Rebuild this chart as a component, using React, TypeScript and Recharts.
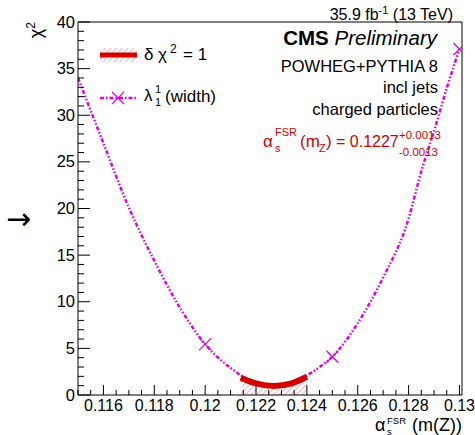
import React from 'react';
import { ComposedChart, Line, Area, Scatter, XAxis, YAxis } from 'recharts';

// magenta lambda_1^1 (width) chi2 scan
const scanCurve = [
  { x: 0.1150, chi2: 34.0 },
  { x: 0.1160, chi2: 27.0 },
  { x: 0.1170, chi2: 20.1 },
  { x: 0.1180, chi2: 14.4 },
  { x: 0.1190, chi2: 9.4 },
  { x: 0.1200, chi2: 5.45 },
  { x: 0.1210, chi2: 2.9 },
  { x: 0.1220, chi2: 1.3 },
  { x: 0.1227, chi2: 0.97 },
  { x: 0.1235, chi2: 1.4 },
  { x: 0.1245, chi2: 3.0 },
  { x: 0.1250, chi2: 4.1 },
  { x: 0.1260, chi2: 7.7 },
  { x: 0.1270, chi2: 12.6 },
  { x: 0.1280, chi2: 18.9 },
  { x: 0.1285, chi2: 24.0 },
  { x: 0.1290, chi2: 28.3 },
  { x: 0.1295, chi2: 32.9 },
  { x: 0.1300, chi2: 37.1 },
];

const scanPoints = [
  { x: 0.120, chi2: 5.45 },
  { x: 0.125, chi2: 4.1 },
  { x: 0.130, chi2: 37.1 },
];

// delta chi2 = 1 interval
const deltaBand = [
  { x: 0.1214, chi2: 1.86 },
  { x: 0.1220, chi2: 1.25 },
  { x: 0.1227, chi2: 0.97 },
  { x: 0.1234, chi2: 1.25 },
  { x: 0.1240, chi2: 1.96 },
];

const xMajorTicks = [0.116, 0.118, 0.12, 0.122, 0.124, 0.126, 0.128, 0.13];
const xMajorLabels = ['0.116', '0.118', '0.12', '0.122', '0.124', '0.126', '0.128', '0.13'];
const yMajorTicks = [0, 5, 10, 15, 20, 25, 30, 35, 40];

const xAllTicks: number[] = [];
for (let i = 0; i <= 30; i++) xAllTicks.push(Math.round((0.115 + i * 0.0005) * 100000) / 100000);
const yAllTicks: number[] = [];
for (let i = 0; i <= 40; i++) yAllTicks.push(i);

const X_DOMAIN: [number, number] = [0.115, 0.1301];
const FONT = '"Liberation Sans", Arial, sans-serif';
const MAGENTA = '#e000e0';
const RED = '#d40000';

const XTick = (props: any) => {
  const { x, y, payload } = props;
  const idx = xMajorTicks.findIndex((t) => Math.abs(t - payload.value) < 1e-7);
  const major = idx >= 0;
  return (
    <g>
      <line x1={x} x2={x} y1={y} y2={y - (major ? 10 : 5)} stroke="#000" />
      {major && (
        <text x={x} y={y + 16} textAnchor="middle" fontSize={16} fontFamily={FONT} fill="#000">
          {xMajorLabels[idx]}
        </text>
      )}
    </g>
  );
};

const YTick = (props: any) => {
  const { x, y, payload } = props;
  const major = yMajorTicks.includes(payload.value);
  return (
    <g>
      <line x1={x} x2={x + (major ? 12 : 6)} y1={y} y2={y} stroke="#000" />
      {major && (
        <text x={x - 3} y={y + 5.5} textAnchor="end" fontSize={16.5} fontFamily={FONT} fill="#000">
          {payload.value}
        </text>
      )}
    </g>
  );
};

const Cross = (props: any) => {
  const { cx, cy } = props;
  const s = 6;
  return (
    <g stroke={MAGENTA} strokeWidth={1.2}>
      <line x1={cx - s} y1={cy - s} x2={cx + s} y2={cy + s} />
      <line x1={cx - s} y1={cy + s} x2={cx + s} y2={cy - s} />
    </g>
  );
};

const Overlay = () => (
  <svg width={475} height={435} style={{ position: 'absolute', left: 0, top: 0, pointerEvents: 'none' }} fontFamily={FONT}>
    <defs>
      <pattern id="hatchLeg" width="4" height="4" patternUnits="userSpaceOnUse" patternTransform="rotate(45)">
        <line x1="0" y1="0" x2="0" y2="4" stroke="#f08a8a" strokeWidth="1.3" />
      </pattern>
    </defs>
    {/* legend */}
    <rect x={100} y={48} width={37} height={14} fill="url(#hatchLeg)" />
    <line x1={100} x2={137} y1={55} y2={55} stroke={RED} strokeWidth={5} />
    <text x={144} y={60} fontSize={17}>δ</text>
    <text x={158} y={60} fontSize={17}>χ</text>
    <text x={170} y={53} fontSize={12}>2</text>
    <text x={183} y={60} fontSize={17}>= 1</text>
    <line x1={100} x2={137} y1={98} y2={98} stroke={MAGENTA} strokeWidth={2.5} strokeDasharray="4 2 1.5 2" />
    <Cross cx={118} cy={98} />
    <text x={144} y={101} fontSize={17}>λ</text>
    <text x={155} y={93} fontSize={11}>1</text>
    <text x={155} y={106} fontSize={11}>1</text>
    <text x={165} y={102} fontSize={17}>(width)</text>

    {/* header */}
    <text x={453} y={20} fontSize={16} textAnchor="end">
      35.9 fb<tspan dy={-6} fontSize={11}>-1</tspan><tspan dy={6}> (13 TeV)</tspan>
    </text>
    <text x={437} y={45} fontSize={20.5} textAnchor="end">
      <tspan fontWeight="bold">CMS</tspan><tspan fontStyle="italic"> Preliminary</tspan>
    </text>
    <text x={438} y={72} fontSize={16.5} textAnchor="end">POWHEG+PYTHIA 8</text>
    <text x={438} y={93} fontSize={16.5} textAnchor="end">incl jets</text>
    <text x={438} y={115} fontSize={16.5} textAnchor="end">charged particles</text>

    {/* result */}
    <g fill={RED}>
      <text x={263} y={147} fontSize={17}>α</text>
      <text x={275} y={136} fontSize={11}>FSR</text>
      <text x={275} y={152} fontSize={11}>s</text>
      <text x={300} y={147} fontSize={17}>(m</text>
      <text x={319} y={152} fontSize={11}>Z</text>
      <text x={326} y={147} fontSize={17}>)</text>
      <text x={336} y={147} fontSize={16}>= 0.1227</text>
      <text x={399} y={139} fontSize={11.5}>+0.0013</text>
      <text x={399} y={156} fontSize={11.5}>-0.0013</text>
    </g>

    {/* axis titles */}
    <text x={42} y={22} fontSize={18} textAnchor="end" transform="rotate(-90 42 22)">
      χ<tspan dy={-7} fontSize={12}>2</tspan>
    </text>
    <text x={6} y={229} fontSize={30} fontFamily='"DejaVu Sans", sans-serif'>→</text>
    <text x={375} y={431} fontSize={18}>α</text>
    <text x={387} y={424} fontSize={9.5}>FSR</text>
    <text x={387} y={434.5} fontSize={9.5}>s</text>
    <text x={462} y={431} fontSize={18} textAnchor="end">(m(Z))</text>
  </svg>
);

export default function App() {
  return (
    <div style={{ position: 'absolute', left: 0, top: 0, width: 475, height: 435, background: '#fff' }}>
      <ComposedChart width={475} height={435} margin={{ top: 0, right: 0, bottom: 0, left: 0 }}>
        <defs>
          <pattern id="hatch" width="4" height="4" patternUnits="userSpaceOnUse" patternTransform="rotate(45)">
            <line x1="0" y1="0" x2="0" y2="4" stroke="#f08a8a" strokeWidth="1.3" />
          </pattern>
        </defs>
        <XAxis
          xAxisId="b"
          type="number"
          dataKey="x"
          domain={X_DOMAIN}
          allowDataOverflow
          ticks={xAllTicks}
          interval={0}
          height={40}
          tickSize={0}
          tickMargin={0}
          tickLine={false}
          tick={<XTick />}
          axisLine={{ stroke: '#000' }}
        />
        <XAxis xAxisId="t" orientation="top" type="number" domain={X_DOMAIN} height={22} tick={false} tickLine={false} axisLine={{ stroke: '#000' }} />
        <YAxis
          yAxisId="l"
          type="number"
          domain={[0, 40]}
          allowDataOverflow
          ticks={yAllTicks}
          interval={0}
          width={78}
          tickSize={0}
          tickMargin={0}
          tickLine={false}
          tick={<YTick />}
          axisLine={{ stroke: '#000' }}
        />
        <YAxis yAxisId="r" orientation="right" type="number" domain={[0, 40]} width={13} tick={false} tickLine={false} axisLine={{ stroke: '#000' }} />
        <Area
          xAxisId="b"
          yAxisId="l"
          data={deltaBand}
          dataKey="chi2"
          type="monotone"
          stroke="none"
          fill="url(#hatch)"
          fillOpacity={1}
          baseValue={0}
          isAnimationActive={false}
        />
        <Line
          xAxisId="b"
          yAxisId="l"
          data={scanCurve}
          dataKey="chi2"
          type="monotone"
          stroke={MAGENTA}
          strokeWidth={2.5}
          strokeDasharray="4 2 1.5 2 1.5 2"
          dot={false}
          activeDot={false}
          isAnimationActive={false}
        />
        <Line
          xAxisId="b"
          yAxisId="l"
          data={deltaBand}
          dataKey="chi2"
          type="monotone"
          stroke={RED}
          strokeWidth={6}
          dot={false}
          activeDot={false}
          isAnimationActive={false}
        />
        <Scatter xAxisId="b" yAxisId="l" data={scanPoints} dataKey="chi2" shape={<Cross />} isAnimationActive={false} />
      </ComposedChart>
      <Overlay />
    </div>
  );
}
